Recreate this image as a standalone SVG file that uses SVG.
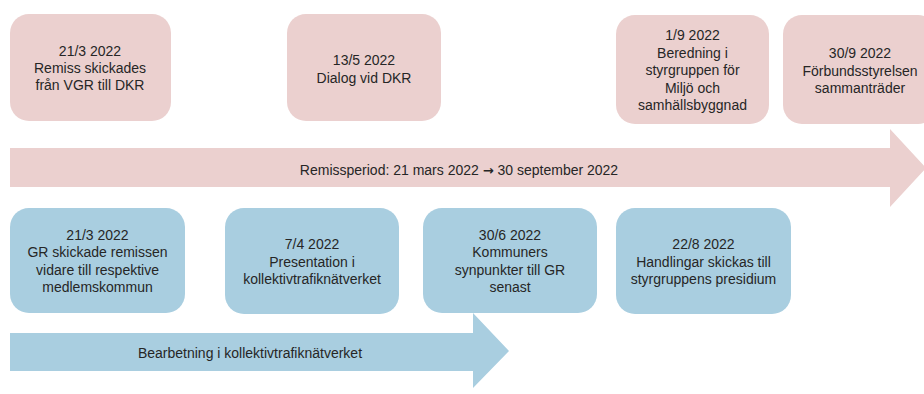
<svg xmlns="http://www.w3.org/2000/svg" width="924" height="394" viewBox="0 0 924 394">
<style>
.pink{fill:#EBD0CF}
.blue{fill:#A9CEE0}
text{font-family:"Liberation Sans",Arial,sans-serif;font-size:14px;fill:#262626;text-anchor:middle}
.arr{font-family:"DejaVu Sans",sans-serif;font-weight:bold;font-size:13px}
</style>
<rect width="924" height="394" fill="#fff"/>
<g id="connectors">
<polygon id="arrow-remiss" class="pink" points="10,148 890,148 890,129 926,168 890,207 890,187 10,187"/>
<text x="459" y="175">Remissperiod: 21 mars 2022 <tspan class="arr">→</tspan> 30 september 2022</text>
<polygon id="arrow-bearbetning" class="blue" points="10,333 473,333 473,313 509,351 473,388 473,371 10,371"/>
<text x="250" y="358">Bearbetning i kollektivtrafiknätverket</text>
</g>
<g id="p1"><rect class="pink" x="10" y="14" width="161" height="107" rx="19"/>
<text x="90" y="56">21/3 2022</text><text x="90" y="73">Remiss skickades</text><text x="90" y="90">från VGR till DKR</text></g>
<g id="p2"><rect class="pink" x="287" y="14" width="154" height="107" rx="19"/>
<text x="364" y="65">13/5 2022</text><text x="364" y="83">Dialog vid DKR</text></g>
<g id="p3"><rect class="pink" x="616" y="15" width="153" height="109" rx="19"/>
<text x="692.5" y="40">1/9 2022</text><text x="692.5" y="57.5">Beredning i</text><text x="692.5" y="75">styrgruppen för</text><text x="692.5" y="92.5">Miljö och</text><text x="692.5" y="110">samhällsbyggnad</text></g>
<g id="p4"><rect class="pink" x="783" y="15" width="154" height="109" rx="19"/>
<text x="860" y="58">30/9 2022</text><text x="860" y="76">Förbundsstyrelsen</text><text x="860" y="93">sammanträder</text></g>
<g id="b1"><rect class="blue" x="10" y="208" width="175" height="105" rx="19"/>
<text x="97.5" y="240">21/3 2022</text><text x="97.5" y="257">GR skickade remissen</text><text x="97.5" y="274.5">vidare till respektive</text><text x="97.5" y="292">medlemskommun</text></g>
<g id="b2"><rect class="blue" x="225" y="208" width="174" height="106" rx="19"/>
<text x="312" y="249">7/4 2022</text><text x="312" y="267">Presentation i</text><text x="312" y="284">kollektivtrafiknätverket</text></g>
<g id="b3"><rect class="blue" x="423" y="208" width="174" height="105" rx="19"/>
<text x="510" y="240">30/6 2022</text><text x="510" y="257">Kommuners</text><text x="510" y="274.5">synpunkter till GR</text><text x="510" y="292">senast</text></g>
<g id="b4"><rect class="blue" x="616" y="208" width="175" height="106" rx="19"/>
<text x="703.5" y="249">22/8 2022</text><text x="703.5" y="267">Handlingar skickas till</text><text x="703.5" y="284">styrgruppens presidium</text></g>
</svg>
